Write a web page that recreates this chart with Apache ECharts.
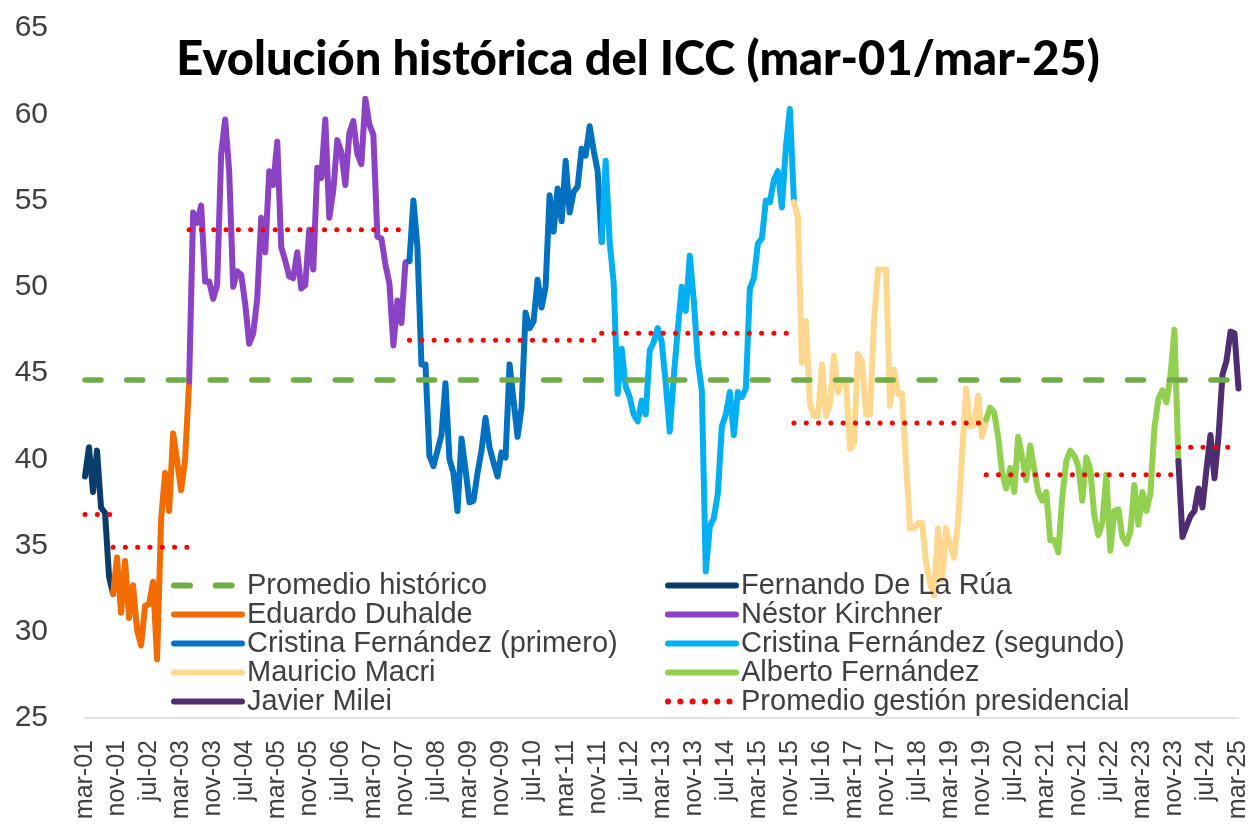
<!DOCTYPE html>
<html>
<head>
<meta charset="utf-8">
<title>Evolución histórica del ICC</title>
<script src="https://cdn.jsdelivr.net/npm/echarts@6/dist/echarts.min.js"></script>
<style>
  html, body { margin: 0; padding: 0; background: #fff; }
  #chart { width: 1251px; height: 824px; }
</style>
</head>
<body>
<div id="chart"></div>
<script>
// eje de meses: mar-01 ... mar-25
var monthNames = ['ene', 'feb', 'mar', 'abr', 'may', 'jun', 'jul', 'ago', 'sep', 'oct', 'nov', 'dic'];
var firstYear = 2001;
var firstMonth = 2; // marzo
var monthCount = 289;

// ICC mensual, por gestión presidencial
var deLaRua = [39.0, 40.7, 38.1, 40.5, 37.2, 36.9, 33.2, 32.2];
var duhalde = [34.3, 31.1, 34.1, 30.8, 32.7, 30.1, 29.2, 31.5, 31.6, 32.9, 28.4, 36.5, 39.2, 37.0, 41.5, 39.9, 38.2, 40.0, 44.5];
var kirchner = [54.3, 53.7, 54.7, 50.3, 50.3, 49.3, 50.1, 57.7, 59.7, 56.7, 50.0, 50.9, 50.7, 49.0, 46.7, 47.3, 49.3, 54.0, 52.0, 56.7,
  55.9, 58.4, 52.3, 51.5, 50.6, 50.5, 52.0, 49.9, 50.1, 53.3, 51.0, 56.9, 56.3, 59.7, 54.0, 55.6, 58.5, 57.8, 55.9, 58.9,
  59.6, 57.7, 57.1, 60.9, 59.4, 58.8, 52.9, 52.8, 51.3, 50.2, 46.6, 49.2, 47.9, 51.4, 51.5];
var cfkPrimero = [55.0, 52.3, 45.5, 45.5, 40.2, 39.6, 40.5, 41.4, 44.4, 40.0, 39.2, 37.0, 41.2, 39.4, 37.5, 37.6, 39.2, 40.5, 42.4, 40.7,
  39.8, 39.0, 40.4, 40.1, 45.5, 43.4, 41.3, 43.0, 48.5, 47.6, 48.0, 50.4, 48.8, 50.0, 55.3, 53.2, 55.7, 53.8, 57.3, 54.3,
  55.5, 55.8, 58.0, 57.6, 59.3, 57.9, 56.7, 52.6];
var cfkSegundo = [57.3, 52.6, 50.2, 43.8, 46.4, 44.2, 43.6, 42.6, 42.2, 43.4, 42.6, 46.3, 46.8, 47.6, 46.8, 44.4, 41.6, 44.8, 47.5, 50.0,
  48.6, 51.8, 49.2, 45.7, 44.0, 33.5, 36.1, 36.6, 38.0, 41.9, 42.6, 43.9, 41.4, 43.9, 43.6, 44.1, 49.9, 50.5, 52.5, 52.8,
  55.0, 54.9, 56.2, 56.7, 54.6, 58.1, 60.3, 54.9];
var macri = [54.0, 45.6, 48.0, 43.2, 42.5, 42.5, 45.5, 42.5, 43.2, 46.0, 43.9, 44.6, 44.5, 40.6, 40.9, 46.1, 45.7, 42.6, 42.6, 48.0,
  51.0, 51.0, 51.0, 43.1, 45.2, 43.8, 43.8, 39.7, 36.0, 36.0, 36.3, 36.3, 34.0, 32.8, 32.1, 36.0, 33.0, 36.0, 35.0, 34.3,
  36.5, 40.3, 44.1, 41.9, 42.0, 43.7, 41.3, 42.3];
var albertoFernandez = [43.0, 42.7, 41.3, 39.2, 38.3, 39.5, 38.1, 41.3, 40.1, 38.8, 40.8, 39.4, 38.1, 37.6, 38.1, 35.3, 35.3, 34.6, 37.8, 39.9,
  40.5, 40.2, 39.6, 37.6, 40.1, 39.4, 36.7, 35.6, 36.3, 39.1, 34.7, 37.0, 37.1, 35.5, 35.1, 35.8, 38.5, 36.2, 38.1, 37.0,
  38.0, 41.8, 43.5, 44.0, 43.3, 44.8, 47.5, 39.9];
var milei = [35.5, 36.1, 36.7, 37.0, 38.3, 37.2, 39.4, 41.4, 38.9, 41.3, 44.9, 45.7, 47.4, 47.3, 44.1];

var presidentNames = ['Fernando De La Rúa', 'Eduardo Duhalde', 'Néstor Kirchner', 'Cristina Fernández (primero)',
  'Cristina Fernández (segundo)', 'Mauricio Macri', 'Alberto Fernández', 'Javier Milei'];
var presidentValues = [deLaRua, duhalde, kirchner, cfkPrimero, cfkSegundo, macri, albertoFernandez, milei];
var termAverages = [36.8, 34.9, 53.3, 46.9, 47.3, 42.1, 39.1, 40.7];
var historicAverage = 44.6;

var presidentColors = ['#0B3D6B', '#F36C00', '#8C42C4', '#0070C0', '#00B0F0', '#FFD88F', '#92D050', '#4E2E70'];

var categories = [];
for (var i = 0; i < monthCount; i++) {
  var m = firstMonth + i;
  var yy = (firstYear + Math.floor(m / 12)) % 100;
  categories.push(monthNames[m % 12] + '-' + (yy < 10 ? '0' : '') + yy);
}

var FONT = '"Liberation Sans", Arial, sans-serif';
var series = [];

// una línea por gestión, unida al último punto de la anterior
var start = 0;
var starts = [];
presidentValues.forEach(function (vals, k) {
  var data = new Array(monthCount).fill(null);
  vals.forEach(function (v, j) { data[start + j] = v; });
  if (k > 0) data[start - 1] = presidentValues[k - 1][presidentValues[k - 1].length - 1];
  starts.push(start);
  series.push({
    name: presidentNames[k],
    type: 'line',
    data: data,
    symbol: 'none',
    lineStyle: { color: presidentColors[k], width: 6, cap: 'round', join: 'round' },
    itemStyle: { color: presidentColors[k] },
    z: 2
  });
  start += vals.length;
});

series.unshift({
  name: 'Promedio histórico',
  type: 'line',
  data: categories.map(function () { return historicAverage; }),
  symbol: 'none',
  lineStyle: { color: '#70AD47', width: 5.5, type: [16, 25.7], cap: 'round' },
  itemStyle: { color: '#70AD47' },
  z: 4
});

termAverages.forEach(function (avg, k) {
  var data = new Array(monthCount).fill(null);
  var from = k === 0 ? 0 : starts[k] - 1;
  var to = starts[k] + presidentValues[k].length - 1;
  for (var j = from; j <= to; j++) data[j] = avg;
  series.push({
    name: 'Promedio gestión presidencial',
    type: 'line',
    data: data,
    symbol: 'none',
    lineStyle: { color: '#FF0000', width: 5, type: [0.1, 12.2], cap: 'round' },
    itemStyle: { color: '#FF0000' },
    z: 5
  });
});

var legendBase = {
  orient: 'vertical',
  top: 566,
  itemWidth: 68,
  itemHeight: 14,
  itemGap: 0,
  itemStyle: { opacity: 0 },
  lineStyle: { width: 6 },
  textStyle: { fontFamily: FONT, fontSize: 29, color: '#404040' },
  selectedMode: false
};

var chart = echarts.init(document.getElementById('chart'));
chart.setOption({
  animation: false,
  backgroundColor: '#fff',
  title: {
    text: 'Evolución histórica del ICC (mar-01/mar-25)',
    left: 633,
    top: 31,
    textAlign: 'center',
    textStyle: { fontFamily: 'Lato, Inter, ' + FONT, fontWeight: 900, fontSize: 47, color: '#000' }
  },
  legend: [
    Object.assign({}, legendBase, {
      left: 166,
      data: ['Promedio histórico', 'Eduardo Duhalde', 'Cristina Fernández (primero)', 'Mauricio Macri', 'Javier Milei']
    }),
    Object.assign({}, legendBase, {
      left: 660,
      data: ['Fernando De La Rúa', 'Néstor Kirchner', 'Cristina Fernández (segundo)', 'Alberto Fernández', 'Promedio gestión presidencial']
    })
  ],
  grid: { left: 85, right: 11, top: 28, bottom: 106, containLabel: false },
  xAxis: {
    type: 'category',
    data: categories,
    boundaryGap: false,
    axisLine: { lineStyle: { color: '#D9D9D9', width: 1.5 } },
    axisTick: { show: false },
    axisLabel: { interval: 7, rotate: 90, margin: 22, fontFamily: FONT, fontSize: 25, color: '#404040' },
    splitLine: { show: false }
  },
  yAxis: {
    type: 'value',
    min: 25,
    max: 65,
    interval: 5,
    axisLine: { show: false },
    axisTick: { show: false },
    splitLine: { show: false },
    axisLabel: { margin: 37, fontFamily: FONT, fontSize: 30, color: '#404040' }
  },
  series: series
});
</script>
</body>
</html>
